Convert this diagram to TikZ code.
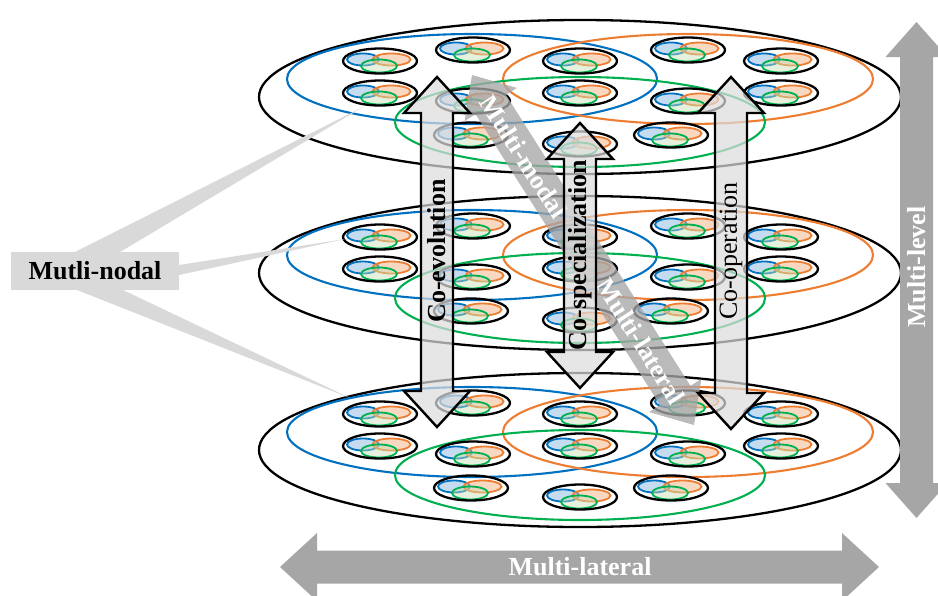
\documentclass[tikz,border=0pt]{standalone}
\usepackage{fontspec}
\setmainfont{Liberation Serif}
\definecolor{mblue}{HTML}{0070C0}
\definecolor{morange}{HTML}{ED7D31}
\definecolor{mgreen}{HTML}{00B050}
\definecolor{fblue}{HTML}{9DC3E6}
\definecolor{forange}{HTML}{F4B183}
\definecolor{fgreen}{HTML}{C5E0B4}
\definecolor{callout}{HTML}{D9D9D9}
\definecolor{bigarrow}{HTML}{A6A6A6}
\definecolor{coarrow}{HTML}{DCDCDC}
\tikzset{
  lbl/.style={font=\bfseries\fontsize{26}{30}\selectfont, inner sep=0pt},
  unit/.pic={
    \draw[mblue, line width=1.8pt, fill=fblue, fill opacity=0.6] (-17,-1.5) ellipse [x radius=16pt, y radius=6pt];
    \draw[morange, line width=1.8pt, fill=forange, fill opacity=0.5] (11.5,-1.5) ellipse [x radius=19pt, y radius=6pt];
    \draw[mgreen, line width=1.8pt, fill=fgreen, fill opacity=0.45] (-1,5) ellipse [x radius=18pt, y radius=6.5pt];
    \draw[line width=2.3pt] (0,0) ellipse [x radius=37pt, y radius=12.5pt];
  },
  layer/.pic={
    \draw[line width=2.3pt] (0,0) ellipse [x radius=321pt, y radius=77pt];
    \draw[mblue, line width=2.1pt] (-108,-18) ellipse [x radius=185pt, y radius=45pt];
    \draw[morange, line width=2.1pt] (108,-18) ellipse [x radius=185pt, y radius=45pt];
    \draw[mgreen, line width=2.1pt] (0,25) ellipse [x radius=185pt, y radius=45pt];
    \foreach \dx/\dy in {-107/-47, 108/-47, -200/-36, 0/-36, 201/-36, -200/-4, 0/-4, 201/-4, -107/4, 108/4, -109/38, 91/38, 0/47}
      {\pic at (\dx,\dy) {unit};}
  },
  coarr/.style={draw=black, line width=2.4pt, fill=coarrow, fill opacity=0.72, line join=miter},
}
\begin{document}
\begin{tikzpicture}[x=1pt,y=-1pt]
\useasboundingbox (0,0) rectangle (938,595);
% layers
\pic at (580,97) {layer};
\pic at (580,273) {layer};
\pic at (580,450) {layer};
% multi-nodal callout
\node[lbl, fill=callout, minimum width=168pt, minimum height=38pt] (mn) at (95,271) {Mutli-nodal};
\coordinate (c1) at (363,107);
\coordinate (c2) at (345,239);
\coordinate (c3) at (350,398);
\fill[callout] (75,252) -- (c1) -- (120,252) -- cycle;
\fill[callout] ([yshift=6pt]mn.east) -- (c2) -- ([yshift=-4pt]mn.east) -- cycle;
\fill[callout] (77,290) -- (c3) -- (123,290) -- cycle;
% diagonal arrow
\fill[bigarrow, fill opacity=0.78] (472,75) -- (516.9,87.95) -- (505.95,94.91) -- (690.45,385.81) -- (701.43,378.85) -- (694,425) -- (649.07,412.05) -- (660.05,405.09) -- (475.55,114.19) -- (464.6,121.15) -- cycle;
\node[lbl, text=white, rotate=-57.6] (mmod) at (524,157) {Multi-modal};
\node[lbl, text=white, rotate=-57.6] (mlat) at (641,341) {Multi-lateral};
% co-arrows
\draw[coarr] (437,77) -- (470,113) -- (453,113) -- (453,391) -- (470,391) -- (437,427) -- (404,391) -- (421,391) -- (421,113) -- (404,113) -- cycle;
\node[lbl, rotate=90] (coev) at (437,251) {Co-evolution};
\draw[coarr] (580,123) -- (613,159) -- (596,159) -- (596,352) -- (613,352) -- (580,388) -- (547,352) -- (564,352) -- (564,159) -- (547,159) -- cycle;
\node[lbl, rotate=90] (cosp) at (580,255) {Co-specialization};
\draw[coarr] (731,77) -- (764,113) -- (747,113) -- (747,393) -- (764,393) -- (731,429) -- (698,393) -- (715,393) -- (715,113) -- (698,113) -- cycle;
\node[lbl, font=\fontsize{26}{30}\selectfont, rotate=90] (coop) at (731,251) {Co-operation};
% multi-level
\fill[bigarrow] (916.5,22) -- (947.5,57) -- (933,57) -- (933,483) -- (947.5,483) -- (916.5,518) -- (885.5,483) -- (900,483) -- (900,57) -- (885.5,57) -- cycle;
\node[lbl, text=white, rotate=90] (mlev) at (916.5,267) {Multi-level};
% multi-lateral
\fill[bigarrow] (280,567) -- (317,533) -- (317,550.5) -- (842,550.5) -- (842,533) -- (879,567) -- (842,601) -- (842,583.5) -- (317,583.5) -- (317,601) -- cycle;
\node[lbl, text=white] (mlh) at (580,567) {Multi-lateral};
\end{tikzpicture}
\end{document}
